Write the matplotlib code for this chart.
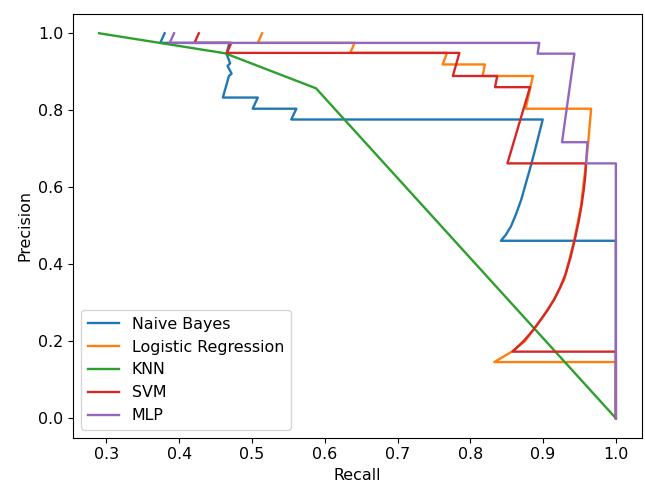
import matplotlib.pyplot as plt

# Points (recall, precision), in drawing order.
nb_recall = [0.380, 0.374, 0.469, 0.465, 0.470, 0.4665, 0.472, 0.4684, 0.460,
             0.508, 0.501, 0.561, 0.554, 0.8995, 0.894, 0.888, 0.882, 0.876,
             0.870, 0.863, 0.856, 0.849, 0.842, 1.0, 1.0]
nb_precision = [1.0, 0.975, 0.975, 0.947, 0.922, 0.915, 0.895, 0.889, 0.833,
                0.833, 0.804, 0.804, 0.776, 0.776, 0.735, 0.690, 0.648, 0.608,
                0.568, 0.531, 0.499, 0.477, 0.461, 0.461, 0.0]

lr_recall = [0.514, 0.508, 0.641, 0.635, 0.768, 0.762, 0.820, 0.817, 0.886,
             0.876, 0.966, 0.962, 0.959, 0.955, 0.952, 0.943, 0.929, 0.915,
             0.897, 0.875, 0.857, 0.833, 1.0, 1.0]
lr_precision = [1.0, 0.975, 0.975, 0.949, 0.949, 0.919, 0.919, 0.889, 0.889,
                0.804, 0.804, 0.717, 0.662, 0.600, 0.551, 0.464, 0.360, 0.308,
                0.256, 0.200, 0.173, 0.146, 0.146, 0.0]

knn_recall = [0.29, 0.463, 0.588, 1.0]
knn_precision = [1.0, 0.948, 0.857, 0.0]

svm_recall = [0.427, 0.421, 0.4716, 0.4656, 0.785, 0.776, 0.837, 0.834, 0.882,
              0.851, 0.959, 0.958, 0.956, 0.953, 0.949, 0.944, 0.938, 0.931,
              0.923, 0.915, 0.906, 0.896, 0.886, 0.873, 0.858, 1.0, 1.0]
svm_precision = [1.0, 0.975, 0.975, 0.949, 0.949, 0.889, 0.889, 0.860, 0.860,
                 0.662, 0.662, 0.630, 0.595, 0.555, 0.512, 0.468, 0.420, 0.375,
                 0.338, 0.308, 0.280, 0.254, 0.228, 0.200, 0.173, 0.173, 0.0]

mlp_recall = [0.393, 0.387, 0.8947, 0.8925, 0.943, 0.926, 0.961, 0.959, 1.0, 1.0]
mlp_precision = [1.0, 0.975, 0.975, 0.947, 0.947, 0.717, 0.717, 0.662, 0.662, 0.0]

curves = [
    ("Naive Bayes", nb_recall, nb_precision),
    ("Logistic Regression", lr_recall, lr_precision),
    ("KNN", knn_recall, knn_precision),
    ("SVM", svm_recall, svm_precision),
    ("MLP", mlp_recall, mlp_precision),
]

plt.rcParams["font.size"] = 11.4

fig = plt.figure(figsize=(6.45, 4.83), dpi=100)
ax = fig.add_axes([0.1136, 0.0942, 0.8813, 0.8768])
for name, recall, precision in curves:
    ax.plot(recall, precision, label=name, linewidth=1.7)

ax.set_xlabel("Recall")
ax.set_ylabel("Precision")
ax.legend(loc="lower left")
fig.savefig("out.png", dpi=100)
